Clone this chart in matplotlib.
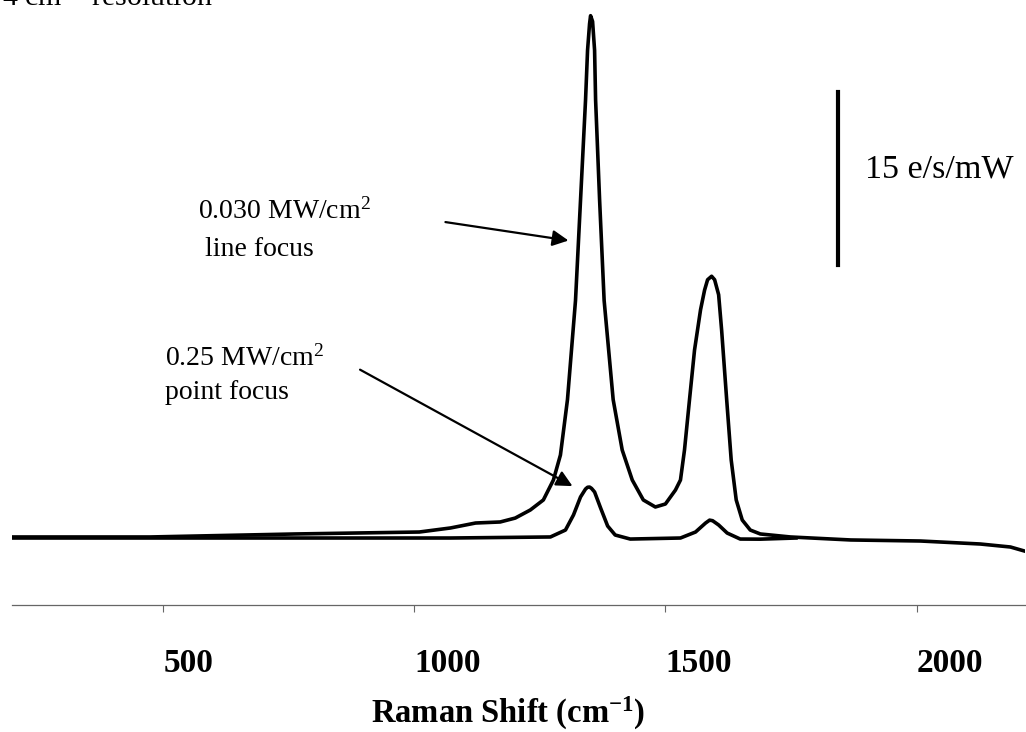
import numpy as np
import matplotlib
matplotlib.use("Agg")
import matplotlib.pyplot as plt

plt.rcParams['font.family'] = ['Liberation Serif', 'DejaVu Serif']
plt.rcParams['mathtext.fontset'] = 'custom'
plt.rcParams['mathtext.rm'] = 'Liberation Serif'
plt.rcParams['mathtext.bf'] = 'Liberation Serif:bold'
plt.rcParams['mathtext.it'] = 'Liberation Serif:italic'

# line focus spectrum (Raman shift cm-1, signal e/s/mW)
line_x = [199, 474, 763, 1010, 1072, 1122, 1171, 1201, 1231, 1257, 1277, 1291, 1305, 1321,
          1331, 1341, 1345, 1349, 1351, 1355, 1359, 1361, 1369, 1378, 1396, 1414, 1434,
          1456, 1480, 1500, 1520, 1530, 1538, 1548, 1558, 1570, 1578, 1584, 1592, 1598,
          1606, 1612, 1622, 1631, 1641, 1653, 1669, 1689, 1749, 1869, 2008, 2127, 2187, 2215]
line_y = [0.09, 0.09, 0.35, 0.52, 0.87, 1.3, 1.39, 1.73, 2.43, 3.3, 5.03, 7.2, 12.0, 20.6,
          29.3, 38.0, 42.3, 44.6, 45.3, 44.8, 42.3, 38.0, 29.3, 20.6, 12.0, 7.63, 5.03,
          3.3, 2.69, 2.95, 4.16, 5.03, 7.63, 12.0, 16.3, 19.8, 21.5, 22.4, 22.7, 22.4,
          21.1, 18.0, 12.0, 6.77, 3.3, 1.56, 0.69, 0.35, 0.09, -0.17, -0.26, -0.52, -0.78, -1.13]

# point focus spectrum
point_x = [199, 773, 1072, 1271, 1301, 1317, 1331, 1341, 1345, 1349, 1353, 1359, 1371,
           1385, 1400, 1430, 1530, 1560, 1580, 1588, 1594, 1606, 1623, 1649, 1689, 1760]
point_y = [0.0, 0.0, 0.0, 0.09, 0.69, 2.0, 3.56, 4.25, 4.4, 4.42, 4.3, 3.99, 2.6,
           1.04, 0.26, -0.09, 0.0, 0.52, 1.3, 1.55, 1.5, 1.13, 0.43, -0.09, -0.1, 0.0]

xticks = [500, 1000, 1500, 2000]
scale_bar = 15  # e/s/mW

fig = plt.figure(figsize=(10.26, 7.32), dpi=100)
ax = fig.add_axes([12 / 1026, 1 - 605 / 732, 1013 / 1026, 605 / 732])

ax.plot(line_x, line_y, color='black', lw=2.6, solid_joinstyle='round')
ax.plot(point_x, point_y, color='black', lw=2.6, solid_joinstyle='round')

ax.set_xlim(199, 2216)
ax.set_ylim(-5.81, 46.66)

for s in ['left', 'right', 'top']:
    ax.spines[s].set_visible(False)
ax.spines['bottom'].set_color('#666666')
ax.spines['bottom'].set_linewidth(0.9)
ax.set_yticks([])
ax.set_xticks(xticks)
ax.set_xticklabels([str(t) for t in xticks], fontsize=24, fontweight='bold')
for lab in ax.get_xticklabels():
    lab.set_horizontalalignment('left')
ax.tick_params(axis='x', direction='out', length=5, width=0.8, color='#666666', pad=26)

ax.set_xlabel('Raman Shift (cm$^{\\mathbf{-1}}$)', fontsize=23.5, fontweight='bold')
ax.xaxis.set_label_coords(0.49, -0.179)
ax.xaxis.label.set_verticalalignment('center')

# scale bar
ax.plot([1843, 1843], [23.7, 23.7 + scale_bar], color='black', lw=3)
ax.text(1898, 32.0, f'{scale_bar} e/s/mW', fontsize=24.5, va='center', ha='left')

# labels and arrows
ax.text(570, 28.3, '0.030 MW/cm$^2$', fontsize=20, ha='left', va='center')
ax.text(584, 25.0, 'line focus', fontsize=20, ha='left', va='center')
ax.annotate('', xy=(1307, 25.8), xytext=(1062, 27.4),
            arrowprops=dict(arrowstyle='-|>', color='black', lw=1.6, mutation_scale=24,
                            shrinkA=0, shrinkB=0))
ax.text(504, 15.6, '0.25 MW/cm$^2$', fontsize=20, ha='left', va='center')
ax.text(504, 12.6, 'point focus', fontsize=20, ha='left', va='center')
ax.annotate('', xy=(1315, 4.5), xytext=(892, 14.6),
            arrowprops=dict(arrowstyle='-|>', color='black', lw=1.6, mutation_scale=24,
                            shrinkA=0, shrinkB=0))

fig.text(2 / 1026, 1 - 6 / 732, '4 cm$^{-1}$ resolution', fontsize=21.5, ha='left', va='baseline')

fig.savefig('out.png', dpi=100)
